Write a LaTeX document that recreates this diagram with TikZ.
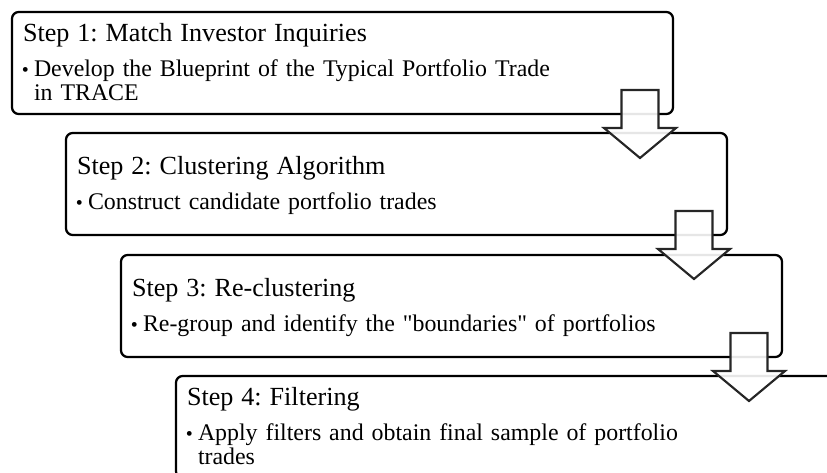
\documentclass[tikz,border=0pt]{standalone}
\usepackage{fontspec}
\setmainfont{Liberation Serif}
\newfontfamily\stepserif{Liberation Serif}
\usepackage{tikz}
\usetikzlibrary{calc}

\setlength{\lineskiplimit}{-100pt}
\newcommand{\stephead}[1]{{\fontsize{19.6}{19.6}\selectfont\rule{0pt}{16.2pt}#1\par}\vspace{8.25pt}}
\newcommand{\stepcont}{\leavevmode\hspace*{8.25pt}}
\newcommand{\stepitem}{\stepcont\llap{\raisebox{0.4pt}{\fontsize{15}{15}\selectfont\textbullet}\hspace{3.9pt}}}
\newcommand{\stepend}{\rule[-3.9pt]{0pt}{0pt}}

\begin{document}
\frenchspacing
\begin{tikzpicture}[x=0.75pt, y=-0.75pt,
    stepbox/.style={draw, line width=1.7pt, rounded corners=5pt, anchor=north west,
        outer sep=0pt, inner xsep=8.25pt, inner ysep=0pt, text width=479.25pt,
        minimum height=76.5pt, align=left, font=\stepserif\fontsize{17.9}{18}\selectfont},
    downarrow/.style={draw=black!85, line width=1.6pt, fill=white, fill opacity=0.9, line join=miter}]
    \useasboundingbox (0,0) rectangle (827,473);
    \clip (0,0) rectangle (827,473);
    \node[stepbox] (s1) at (12,12) {\stephead{Step 1: Match Investor Inquiries}
        \stepitem Develop the Blueprint of the Typical Portfolio Trade\\\stepcont in TRACE\stepend};
    \node[stepbox] (s2) at (66,133) {\stephead{Step 2: Clustering Algorithm}
        \stepitem Construct candidate portfolio trades\stepend};
    \node[stepbox] (s3) at (121,255) {\stephead{Step 3: Re-clustering}
        \stepitem Re-group and identify the "boundaries" of portfolios\stepend};
    \node[stepbox] (s4) at (176,376) {\stephead{Step 4: Filtering}
        \stepitem Apply filters and obtain final sample of portfolio\\\stepcont trades\stepend};
    \foreach \a in {s1,s2,s3}
        \draw[downarrow] ($(\a.south east)+(-33,-24)$) ++(-18.5,0) -- ++(37,0) -- ++(0,38)
            -- ++(17.5,0) -- ++(-36,30) -- ++(-36,-30) -- ++(17.5,0) -- cycle;
\end{tikzpicture}
\end{document}
